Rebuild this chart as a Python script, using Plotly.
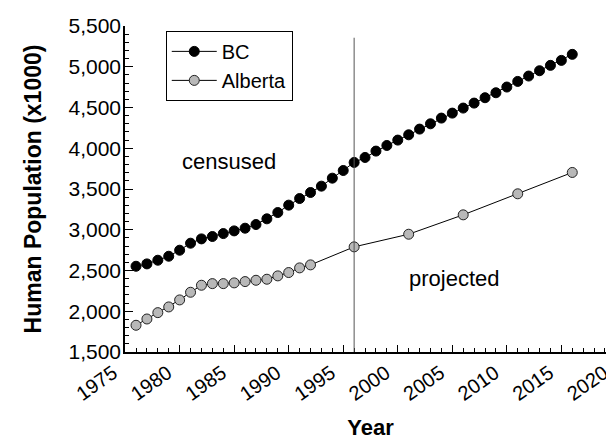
import plotly.graph_objects as go

bc_years = list(range(1976, 2017))
bc_pop = [2552, 2581, 2626, 2675, 2749, 2835, 2888, 2917, 2953, 2986,
          3019, 3064, 3134, 3211, 3302, 3383, 3457, 3535, 3633, 3727,
          3826, 3887, 3965, 4034, 4100, 4165, 4235, 4300, 4370, 4431,
          4493, 4554, 4620, 4681, 4751, 4820, 4886, 4951, 5017, 5078, 5152]

ab_years = list(range(1976, 1993)) + [1996, 2001, 2006, 2011, 2016]
ab_pop = [1828, 1905, 1983, 2053, 2139, 2233, 2319, 2339, 2339, 2348,
          2364, 2380, 2393, 2434, 2475, 2532, 2569,
          2790, 2945, 3183, 3441, 3703]

divider_year = 1996
divider_top = 5356

FONT = "Liberation Sans, Arial, sans-serif"

fig = go.Figure()
fig.add_trace(go.Scatter(
    x=bc_years, y=bc_pop, name="BC", mode="lines+markers",
    line=dict(color="black", width=1),
    marker=dict(color="black", size=10, line=dict(color="black", width=1)),
))
fig.add_trace(go.Scatter(
    x=ab_years, y=ab_pop, name="Alberta", mode="lines+markers",
    line=dict(color="black", width=1),
    marker=dict(color="#b8b8b8", size=10, line=dict(color="#222222", width=1)),
))

fig.add_shape(type="line", x0=divider_year, x1=divider_year, y0=1500, y1=divider_top,
              xref="x", yref="y", line=dict(color="#555555", width=1))

fig.add_annotation(x=1984.5, y=3833, text="censused", showarrow=False,
                   font=dict(family=FONT, size=22, color="black"))
fig.add_annotation(x=2005.2, y=2396, text="projected", showarrow=False,
                   font=dict(family=FONT, size=22, color="black"))

fig.update_layout(
    width=614, height=439,
    margin=dict(l=117, r=6, t=18, b=95, autoexpand=False),
    paper_bgcolor="white", plot_bgcolor="white",
    font=dict(family=FONT, color="black"),
    showlegend=True,
    legend=dict(x=0.083, y=0.985, xanchor="left", yanchor="top",
                bordercolor="black", borderwidth=1, bgcolor="white",
                font=dict(family=FONT, size=20, color="black"),
                tracegroupgap=0, itemwidth=45),
    xaxis=dict(
        range=[1974.99, 2020.01], dtick=5, tick0=1975, automargin=False,
        showline=True, linecolor="black", linewidth=1.5,
        ticks="inside", ticklen=7, tickcolor="black", tickwidth=1,
        minor=dict(dtick=1, ticks="inside", ticklen=4, tickcolor="black"),
        tickangle=-35, showgrid=False, zeroline=False, ticklabeloverflow="allow",
        ticklabelshift=-12,
        tickfont=dict(family=FONT, size=20, color="black"),
        title=dict(text="<b>Year</b>", font=dict(family=FONT, size=22, color="black"), standoff=16),
    ),
    yaxis=dict(
        range=[1500, 5500], dtick=500, tick0=1500, tickformat=",d", automargin=False,
        showline=True, linecolor="black", linewidth=1.5,
        ticks="inside", ticklen=8, tickcolor="black", tickwidth=1,
        minor=dict(dtick=100, ticks="inside", ticklen=4, tickcolor="black"),
        showgrid=False, zeroline=False,
        tickfont=dict(family=FONT, size=21, color="black"),
        ticklabelstandoff=-2,
        title=dict(text="<b>Human Population (x1000)</b>", font=dict(family=FONT, size=23, color="black"), standoff=20),
    ),
)

fig.write_html("out.html")
